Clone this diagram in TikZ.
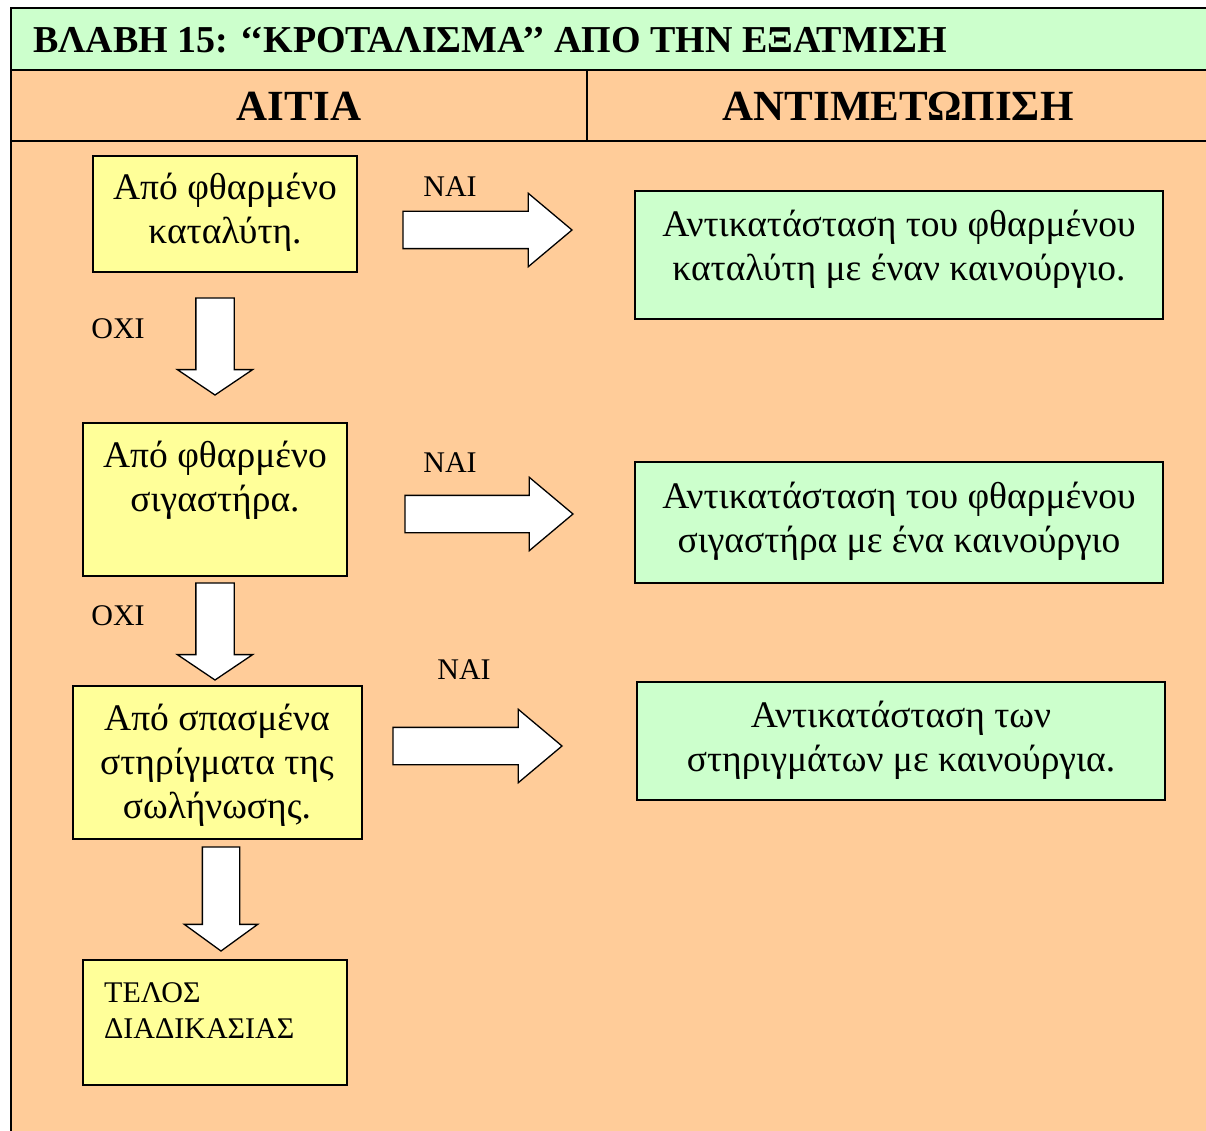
\documentclass[tikz,border=0pt]{standalone}
\usepackage{fontspec}
\setmainfont{Liberation Serif}
\usetikzlibrary{shapes.arrows}

\definecolor{mint}{HTML}{CCFFCC}
\definecolor{peach}{HTML}{FFCC99}
\definecolor{lemon}{HTML}{FFFF99}

\begin{document}
\begin{tikzpicture}[x=1pt,y=-1pt,
  frameline/.style={line width=2pt, draw=black},
  causebox/.style={draw=black, line width=1.8pt, fill=lemon, inner sep=0pt, outer sep=0pt, anchor=north west},
  fixbox/.style={draw=black, line width=1.8pt, fill=mint, inner sep=0pt, outer sep=0pt, anchor=north west},
  boxtext/.style={align=center, inner sep=0pt, anchor=base, font=\fontsize{37.5}{44}\selectfont},
  endtext/.style={align=left, inner sep=0pt, anchor=base west, font=\fontsize{30}{36}\selectfont},
  answer/.style={inner sep=0pt, anchor=base, font=\fontsize{30}{34}\selectfont},
  headtext/.style={inner sep=0pt, anchor=base, font=\fontsize{43}{50}\selectfont\bfseries},
  yesarrow/.style={single arrow, draw=black, line width=1.3pt, fill=white, inner xsep=0pt, inner ysep=18pt,
    outer sep=0pt, single arrow head extend=18pt, single arrow tip angle=80, anchor=tail},
  noarrow/.style={single arrow, draw=black, line width=1.3pt, fill=white, inner xsep=0pt, outer sep=0pt,
    rotate=-90, anchor=tail},
]
\useasboundingbox (0,0) rectangle (1206,1131);
\fill[white] (0,0) rectangle (1206,1131);

% table frame: title band, column headings, body
\fill[mint] (11,8) rectangle (1206,70);
\fill[peach] (11,70) rectangle (1206,1131);
\draw[frameline] (1206,8) -- (11,8) -- (11,1131);
\draw[frameline] (11,70) -- (1206,70);
\draw[frameline] (11,141) -- (1206,141);
\draw[frameline] (587,70) -- (587,141);

\node[inner sep=0pt, anchor=base west, font=\fontsize{38}{44}\selectfont\bfseries] (title) at (33,53)
  {ΒΛΑΒΗ 15: ‘‘ΚΡΟΤΑΛΙΣΜΑ’’ ΑΠΟ ΤΗΝ ΕΞΑΤΜΙΣΗ};
\node[headtext] (hcause) at (299,121) {ΑΙΤΙΑ};
\node[headtext] (hfix) at (898,121) {ΑΝΤΙΜΕΤΩΠΙΣΗ};

% causes (text anchored on the baseline of its last line)
\node[causebox, minimum width=264pt, minimum height=116pt] (c1) at (93,156) {};
\node[boxtext] (c1t) at (225,244) {Από φθαρμένο\\καταλύτη.};
\node[causebox, minimum width=264pt, minimum height=153pt] (c2) at (83,423) {};
\node[boxtext] (c2t) at (215,511) {Από φθαρμένο\\σιγαστήρα.};
\node[causebox, minimum width=289pt, minimum height=153pt] (c3) at (73,686) {};
\node[boxtext] (c3t) at (217,818) {Από σπασμένα\\στηρίγματα της\\σωλήνωσης.};
\node[causebox, minimum width=264pt, minimum height=125pt] (c4) at (83,960) {};
\node[endtext] (c4t) at (104,1038) {ΤΕΛΟΣ\\ΔΙΑΔΙΚΑΣΙΑΣ};

% remedies
\node[fixbox, minimum width=528pt, minimum height=128pt] (f1) at (635,191) {};
\node[boxtext] (f1t) at (899,281) {Αντικατάσταση του φθαρμένου\\καταλύτη με έναν καινούργιο.};
\node[fixbox, minimum width=528pt, minimum height=121pt] (f2) at (635,462) {};
\node[boxtext] (f2t) at (899,552) {Αντικατάσταση του φθαρμένου\\σιγαστήρα με ένα καινούργιο};
\node[fixbox, minimum width=528pt, minimum height=118pt] (f3) at (637,682) {};
\node[boxtext] (f3t) at (901,771) {Αντικατάσταση των\\στηριγμάτων με καινούργια.};

% yes arrows
\node[yesarrow, minimum height=169pt] (y1) at (403,230) {};
\node[yesarrow, minimum height=168pt] (y2) at (405,514) {};
\node[yesarrow, minimum height=169pt] (y3) at (393,746) {};
\node[answer] (y1t) at (450,197) {ΝΑΙ};
\node[answer] (y2t) at (450,472) {ΝΑΙ};
\node[answer] (y3t) at (464,679) {ΝΑΙ};

% no arrows
\node[noarrow, minimum height=97pt, inner ysep=18.5pt, single arrow head extend=18.5pt, single arrow tip angle=112] (n1) at (215,298) {};
\node[noarrow, minimum height=97pt, inner ysep=18.5pt, single arrow head extend=18.5pt, single arrow tip angle=112] (n2) at (215,583) {};
\node[noarrow, minimum height=104pt, inner ysep=18pt, single arrow head extend=18pt, single arrow tip angle=108] (n3) at (221,847) {};
\node[answer] (n1t) at (118,338) {ΟΧΙ};
\node[answer] (n2t) at (118,625) {ΟΧΙ};
\end{tikzpicture}
\end{document}
